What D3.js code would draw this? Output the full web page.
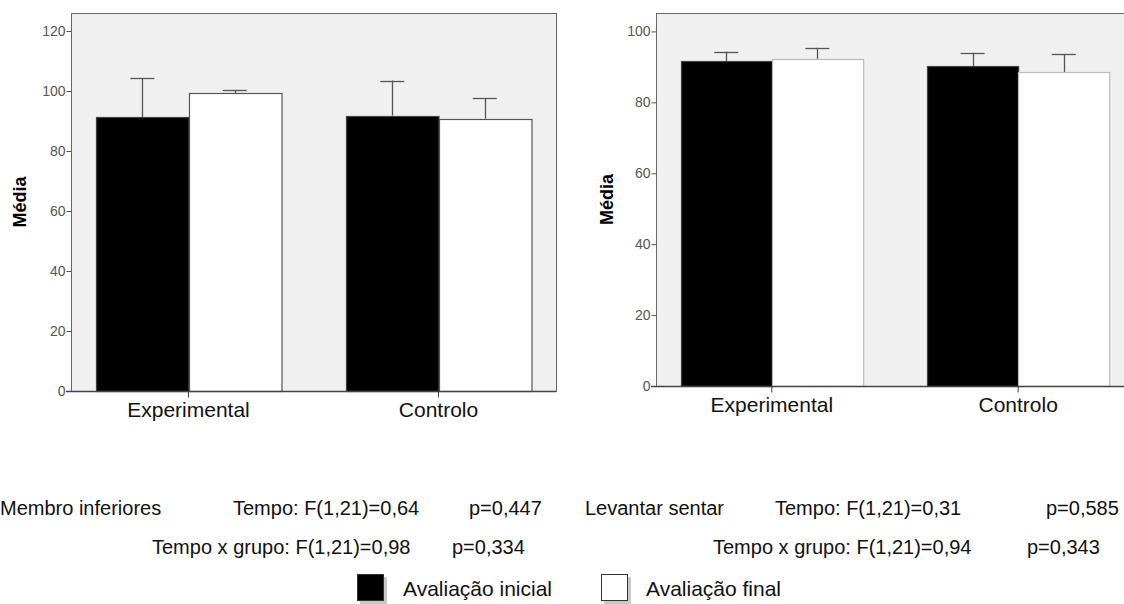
<!DOCTYPE html>
<html>
<head>
<meta charset="utf-8">
<script src="https://cdn.jsdelivr.net/npm/d3@7"></script>
<style>
  body { margin: 0; background: #fff; }
  svg text { font-family: "Liberation Sans", Arial, sans-serif; }
</style>
</head>
<body>
<div id="chart"></div>
<script>
const W = 1124;
const H = 604;

// data
const groups = ["Experimental", "Controlo"];
const seriesNames = ["Avaliação inicial", "Avaliação final"];

const membroInicial = [91.2, 91.8];
const membroFinal = [99.3, 90.8];
const membroInicialErr = [13.1, 11.7];
const membroFinalErr = [1.0, 6.9];
const membroTicks = [0, 20, 40, 60, 80, 100, 120];

const levantarInicial = [91.6, 90.3];
const levantarFinal = [92.2, 88.5];
const levantarInicialErr = [2.7, 3.7];
const levantarFinalErr = [3.2, 5.0];
const levantarTicks = [0, 20, 40, 60, 80, 100];

const statsRow1 = ["Membro inferiores", "Tempo: F(1,21)=0,64", "p=0,447",
                   "Levantar sentar", "Tempo: F(1,21)=0,31", "p=0,585"];
const statsRow2 = ["Tempo x grupo: F(1,21)=0,98", "p=0,334",
                   "Tempo x grupo: F(1,21)=0,94", "p=0,343"];

const svg = d3.select("#chart")
  .append("svg")
  .attr("width", W)
  .attr("height", H);

function panel(p) {
  const g = svg.append("g");

  const y = d3.scaleLinear()
    .domain([0, p.yMax])
    .range([p.bottom, p.top]);

  const x0 = d3.scaleBand()
    .domain(groups)
    .range([p.left, p.right])
    .paddingInner(0.26)
    .paddingOuter(0.1);

  const x1 = d3.scaleBand()
    .domain(seriesNames)
    .range([0, x0.bandwidth()]);

  // plot background + frame
  g.append("rect")
    .attr("x", p.left + 0.5)
    .attr("y", p.top + 0.5)
    .attr("width", p.right - p.left)
    .attr("height", p.bottom - p.top)
    .attr("fill", "#f0f0f0")
    .attr("stroke", "#666")
    .attr("stroke-width", 1);

  const rows = [];
  groups.forEach((grp, i) => {
    rows.push({ g: grp, s: seriesNames[0], v: p.ini[i], e: p.iniErr[i] });
    rows.push({ g: grp, s: seriesNames[1], v: p.fin[i], e: p.finErr[i] });
  });

  // error bars (upper only)
  const eb = g.selectAll(".err")
    .data(rows)
    .enter()
    .append("g")
    .attr("class", "err")
    .attr("stroke", "#555")
    .attr("stroke-width", 1.3);
  eb.append("line")
    .attr("x1", d => Math.round(x0(d.g) + x1(d.s) + x1.bandwidth() / 2) + 0.5)
    .attr("x2", d => Math.round(x0(d.g) + x1(d.s) + x1.bandwidth() / 2) + 0.5)
    .attr("y1", d => y(d.v))
    .attr("y2", d => y(d.v + d.e));
  eb.append("line")
    .attr("x1", d => x0(d.g) + x1(d.s) + x1.bandwidth() / 2 - 12)
    .attr("x2", d => x0(d.g) + x1(d.s) + x1.bandwidth() / 2 + 12)
    .attr("y1", d => Math.round(y(d.v + d.e)) + 0.5)
    .attr("y2", d => Math.round(y(d.v + d.e)) + 0.5);

  // bars
  g.selectAll(".bar")
    .data(rows)
    .enter()
    .append("rect")
    .attr("class", "bar")
    .attr("x", d => Math.round(x0(d.g) + x1(d.s)) + 0.5)
    .attr("y", d => Math.round(y(d.v)) + 0.5)
    .attr("width", x1.bandwidth())
    .attr("height", d => Math.round(y(0)) - Math.round(y(d.v)))
    .attr("fill", d => d.s === seriesNames[0] ? "#000" : "#fff")
    .attr("stroke", d => d.s === seriesNames[0] ? "#444" : p.whiteStroke)
    .attr("stroke-width", 1.2);

  const yAxis = g.append("g")
    .attr("transform", "translate(" + (p.left + 0.5) + ",0)")
    .call(d3.axisLeft(y).tickValues(p.ticks).tickSize(5).tickSizeOuter(0).tickPadding(1));
  yAxis.select(".domain").remove();
  yAxis.selectAll("line").attr("stroke", "#555");
  yAxis.selectAll("text")
    .attr("fill", "#555")
    .style("font-size", "14px");

  const xAxis = g.append("g")
    .attr("transform", "translate(0," + (p.bottom + 0.5) + ")")
    .call(d3.axisBottom(x0).tickSize(6).tickSizeOuter(0).tickPadding(5));
  xAxis.select(".domain").attr("stroke", "#444").attr("stroke-width", 1.3)
    .attr("d", "M" + (p.left - 5) + ",0H" + p.right);
  xAxis.selectAll("line").attr("stroke", "#444");
  xAxis.selectAll("text")
    .attr("fill", "#111")
    .style("font-size", "21px");

  g.append("text")
    .attr("transform", "translate(" + p.titleX + "," + ((p.top + p.bottom) / 2) + ") rotate(-90)")
    .attr("text-anchor", "middle")
    .attr("dy", "0.35em")
    .style("font-size", "18px")
    .style("font-weight", "bold")
    .text("Média");
}

panel({
  left: 71, right: 556, top: 13, bottom: 391, yMax: 126,
  ticks: membroTicks, ini: membroInicial, fin: membroFinal,
  iniErr: membroInicialErr, finErr: membroFinalErr,
  whiteStroke: "#555", titleX: 20
});

panel({
  left: 656, right: 1134, top: 13, bottom: 386, yMax: 105.2,
  ticks: levantarTicks, ini: levantarInicial, fin: levantarFinal,
  iniErr: levantarInicialErr, finErr: levantarFinalErr,
  whiteStroke: "#bbb", titleX: 607
});

// statistics text
const row1X = [0, 233, 469, 585, 775, 1046];
const row2X = [152, 452, 713, 1027];
svg.selectAll(".s1")
  .data(statsRow1)
  .enter()
  .append("text")
  .attr("x", (d, i) => row1X[i])
  .attr("y", 515)
  .style("font-size", "20px")
  .attr("fill", "#111")
  .text(d => d);
svg.selectAll(".s2")
  .data(statsRow2)
  .enter()
  .append("text")
  .attr("x", (d, i) => row2X[i])
  .attr("y", 554)
  .style("font-size", "20px")
  .attr("fill", "#111")
  .text(d => d);

// legend
const legX = [357, 601];
const leg = svg.selectAll(".leg")
  .data(seriesNames)
  .enter()
  .append("g")
  .attr("transform", (d, i) => "translate(" + legX[i] + ",574)");
leg.append("rect")
  .attr("x", 3).attr("y", 3)
  .attr("width", 27).attr("height", 27)
  .attr("fill", "#c8c8c8");
leg.append("rect")
  .attr("x", 0.5).attr("y", 0.5)
  .attr("width", 26).attr("height", 26)
  .attr("fill", (d, i) => i === 0 ? "#000" : "#fff")
  .attr("stroke", "#333");
leg.append("text")
  .attr("x", (d, i) => i === 0 ? 46 : 45)
  .attr("y", 22)
  .style("font-size", "21px")
  .attr("fill", "#111")
  .text(d => d);
</script>
</body>
</html>
